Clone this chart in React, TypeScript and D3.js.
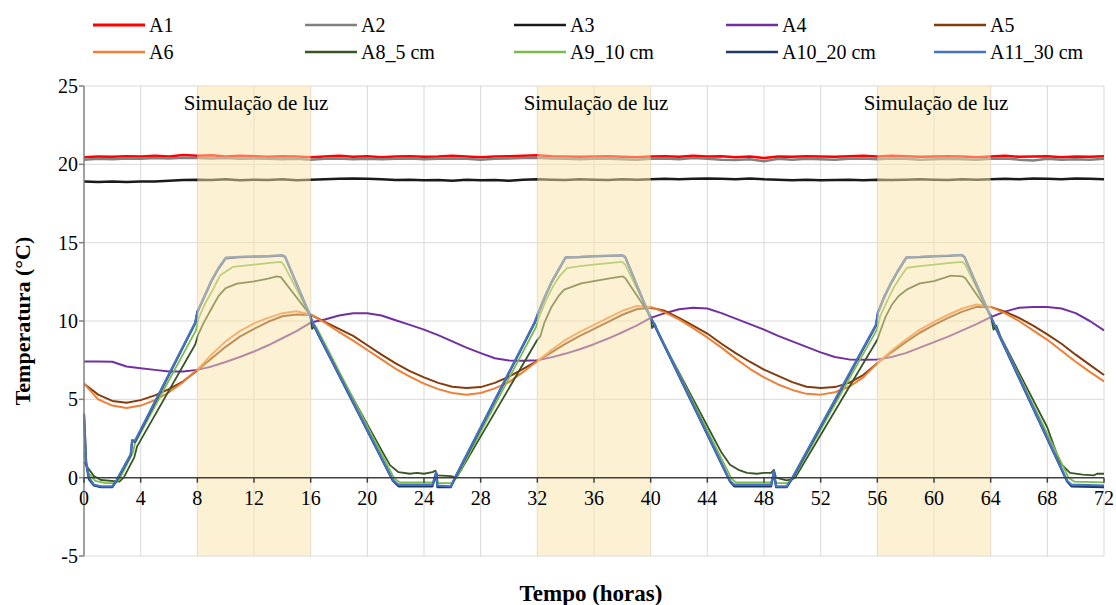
import React from "react";
import * as d3 from "d3";

// ---------- DATA ----------
const xTicks = [0, 4, 8, 12, 16, 20, 24, 28, 32, 36, 40, 44, 48, 52, 56, 60, 64, 68, 72];
const yTicks = [-5, 0, 5, 10, 15, 20, 25];
const lightPeriods = [[8, 16], [32, 40], [56, 64]];
const lightLabel = "Simulação de luz";

// hourly values (hour 0..72)
const A1 = [20.45, 20.5, 20.48, 20.52, 20.5, 20.55, 20.5, 20.6, 20.55, 20.58, 20.5, 20.55, 20.52, 20.48, 20.52, 20.5, 20.45, 20.5, 20.55, 20.48, 20.52, 20.45, 20.5, 20.52, 20.48, 20.5, 20.55, 20.5, 20.45, 20.5, 20.52, 20.55, 20.58, 20.52, 20.5, 20.48, 20.5, 20.52, 20.48, 20.45, 20.5, 20.52, 20.48, 20.55, 20.5, 20.52, 20.45, 20.5, 20.4, 20.5, 20.48, 20.52, 20.5, 20.48, 20.52, 20.55, 20.5, 20.55, 20.52, 20.48, 20.5, 20.52, 20.5, 20.45, 20.5, 20.55, 20.48, 20.5, 20.52, 20.45, 20.5, 20.48, 20.52];
const A2 = [20.3, 20.35, 20.32, 20.38, 20.35, 20.4, 20.38, 20.42, 20.4, 20.38, 20.4, 20.35, 20.38, 20.36, 20.33, 20.35, 20.3, 20.35, 20.38, 20.33, 20.35, 20.32, 20.35, 20.38, 20.33, 20.35, 20.38, 20.35, 20.3, 20.35, 20.38, 20.4, 20.42, 20.38, 20.35, 20.33, 20.35, 20.36, 20.33, 20.3, 20.35, 20.38, 20.33, 20.4, 20.35, 20.3, 20.28, 20.33, 20.2, 20.35, 20.3, 20.35, 20.33, 20.3, 20.35, 20.38, 20.33, 20.38, 20.35, 20.3, 20.33, 20.36, 20.33, 20.3, 20.35, 20.38, 20.3, 20.25, 20.35, 20.3, 20.33, 20.3, 20.35];
const A3 = [18.9, 18.88, 18.9, 18.88, 18.9, 18.9, 18.95, 19.0, 19.02, 19.0, 19.05, 18.98, 19.02, 19.0, 19.05, 18.98, 19.02, 19.05, 19.08, 19.1, 19.08, 19.05, 19.0, 19.02, 18.98, 19.0, 18.95, 19.02, 18.98, 19.0, 18.95, 19.02, 19.05, 19.02, 19.0, 19.05, 19.02, 19.0, 19.05, 19.02, 19.05, 19.08, 19.05, 19.08, 19.1, 19.08, 19.05, 19.1, 19.05, 19.02, 18.98, 19.02, 18.98, 19.0, 19.02, 18.98, 19.02, 19.0, 19.02, 19.05, 19.02, 19.0, 19.05, 19.02, 19.05, 19.08, 19.05, 19.1, 19.08, 19.05, 19.1, 19.08, 19.05];
const A4 = [7.42, 7.42, 7.4, 7.1, 6.98, 6.88, 6.78, 6.78, 6.88, 7.1, 7.38, 7.7, 8.05, 8.45, 8.9, 9.35, 9.9, 10.1, 10.35, 10.5, 10.5, 10.35, 10.05, 9.75, 9.45, 9.1, 8.7, 8.3, 7.95, 7.62, 7.48, 7.47, 7.5, 7.68, 7.92, 8.2, 8.52, 8.88, 9.28, 9.7, 10.2, 10.5, 10.75, 10.85, 10.8, 10.5, 10.15, 9.8, 9.45, 9.05, 8.7, 8.35, 8.0, 7.7, 7.55, 7.52, 7.55, 7.7, 7.95, 8.3, 8.65, 9.0, 9.4, 9.8, 10.25, 10.6, 10.85, 10.9, 10.9, 10.8, 10.5, 10.0, 9.4];
const A5 = [6.0, 5.3, 4.9, 4.78, 4.95, 5.25, 5.65, 6.15, 6.85, 7.6, 8.35, 9.0, 9.5, 9.95, 10.3, 10.42, 10.4, 9.95, 9.5, 9.05, 8.45, 7.85, 7.3, 6.8, 6.4, 6.05, 5.8, 5.72, 5.78, 6.05, 6.45, 6.95, 7.45, 8.0, 8.55, 9.05, 9.5, 9.95, 10.4, 10.75, 10.85, 10.65, 10.2, 9.7, 9.2, 8.55, 7.95, 7.4, 6.9, 6.5, 6.1, 5.8, 5.72, 5.78, 6.05, 6.55, 7.3, 8.0, 8.65, 9.25, 9.75, 10.2, 10.6, 10.9, 10.9, 10.6, 10.2, 9.7, 9.15, 8.55, 7.85, 7.2, 6.55];
const A6 = [6.0, 5.0, 4.6, 4.45, 4.6, 4.95, 5.45, 6.1, 6.9, 7.85, 8.7, 9.35, 9.85, 10.2, 10.5, 10.62, 10.4, 9.9, 9.3, 8.75, 8.15, 7.55, 6.95, 6.45, 6.0, 5.65, 5.4, 5.3, 5.4, 5.7, 6.1, 6.75, 7.45, 8.15, 8.8, 9.3, 9.75, 10.2, 10.65, 10.95, 10.9, 10.55, 10.1, 9.55, 8.95, 8.3, 7.6, 6.95, 6.4, 5.95, 5.6, 5.35, 5.3, 5.45, 5.8, 6.4, 7.3, 8.1, 8.8, 9.45, 9.95, 10.4, 10.8, 11.05, 10.9, 10.5, 10.0, 9.4, 8.8, 8.1, 7.4, 6.75, 6.15];

// [hour, value] readings for soil probes
const A8 = [[0, 1.0], [0.3, 0.6], [0.7, 0.1], [1.2, -0.15], [2.5, -0.25], [2.8, 0.0], [3.55, 1.3], [3.75, 2.0], [7.85, 8.5], [8.05, 9.1], [8.4, 9.8], [9, 10.8], [9.5, 11.6], [10, 12.1], [10.8, 12.38], [12, 12.53], [13, 12.7], [13.6, 12.85], [13.9, 12.8], [15.95, 10.4], [16.1, 9.5], [16.3, 9.7], [16.6, 9.0], [20, 3.4], [21.1, 1.6], [21.6, 0.8], [22.2, 0.35], [23, 0.25], [23.5, 0.3], [24, 0.25], [24.6, 0.35], [24.8, 0.45], [24.95, 0.15], [25.9, 0.1], [26.3, 0.0], [32.0, 8.8], [32.2, 9.0], [32.5, 9.9], [33.0, 10.9], [33.5, 11.6], [33.9, 12.0], [35.1, 12.4], [36, 12.55], [37, 12.7], [38, 12.85], [38.2, 12.75], [40.0, 10.3], [40.1, 9.55], [40.3, 9.8], [40.6, 9.1], [44, 3.3], [45.0, 1.6], [45.6, 0.83], [46.2, 0.5], [46.8, 0.3], [47.5, 0.25], [48.0, 0.3], [48.5, 0.3], [48.7, 0.5], [48.85, 0.0], [49.6, -0.17], [50.0, -0.1], [50.2, 0.0], [56.0, 8.8], [56.2, 9.34], [56.6, 10.3], [57, 11.0], [57.5, 11.6], [58.07, 12.0], [59, 12.4], [60, 12.55], [61.2, 12.89], [62, 12.85], [62.2, 12.75], [64.0, 10.4], [64.2, 9.45], [64.4, 9.7], [64.7, 9.0], [68, 3.2], [68.9, 0.94], [69.6, 0.3], [70.5, 0.2], [71.3, 0.15], [71.5, 0.25], [72, 0.25]];
const A9 = [[0, 1.6], [0.3, 0.3], [0.8, -0.2], [1.5, -0.35], [2.2, -0.35], [2.5, -0.1], [3.45, 1.6], [3.6, 2.2], [7.9, 9.4], [8.1, 10.2], [8.6, 11.2], [9.1, 12.0], [9.6, 12.9], [10.5, 13.45], [11, 13.5], [12, 13.6], [13, 13.7], [13.9, 13.78], [14.1, 13.6], [15.95, 10.4], [16.2, 9.7], [16.4, 9.6], [21.9, -0.05], [22.3, -0.3], [24.7, -0.3], [24.9, 0.1], [25.0, -0.35], [26.0, -0.35], [26.3, 0.0], [31.9, 9.6], [32.15, 10.3], [32.6, 11.3], [33.1, 12.2], [33.6, 12.9], [34.1, 13.38], [35, 13.5], [36, 13.6], [37, 13.7], [38, 13.77], [38.2, 13.6], [40.0, 10.3], [40.3, 9.7], [45.7, -0.05], [46.0, -0.3], [48.5, -0.3], [48.7, 0.1], [48.85, -0.35], [49.7, -0.35], [50.1, 0.0], [56.0, 9.5], [56.2, 10.3], [56.7, 11.3], [57.2, 12.2], [57.7, 12.9], [58.1, 13.4], [59, 13.5], [60, 13.6], [61, 13.7], [62, 13.78], [62.2, 13.6], [64.0, 10.3], [64.3, 9.7], [69.5, 0.0], [69.9, -0.25], [72, -0.3]];
const A10 = [[0, 4.0], [0.15, 0.9], [0.35, -0.1], [0.7, -0.5], [1.2, -0.6], [2.0, -0.6], [2.3, -0.2], [3.3, 1.45], [3.4, 2.35], [3.6, 2.3], [7.85, 9.85], [8.0, 10.55], [8.5, 11.55], [9.0, 12.55], [9.5, 13.35], [10.0, 14.0], [11, 14.08], [12, 14.1], [13, 14.12], [14.0, 14.18], [14.2, 14.08], [15.95, 10.35], [16.1, 9.95], [16.3, 9.55], [21.8, -0.2], [22.2, -0.55], [24.6, -0.55], [24.85, 0.3], [24.95, -0.6], [25.9, -0.6], [26.2, 0.0], [31.8, 9.85], [32.05, 10.45], [32.5, 11.45], [33, 12.45], [33.5, 13.25], [34, 14.05], [35, 14.08], [36, 14.12], [37, 14.15], [38, 14.18], [38.2, 14.08], [39.95, 10.25], [40.2, 9.85], [45.6, -0.25], [45.9, -0.55], [48.5, -0.55], [48.7, 0.35], [48.85, -0.6], [49.6, -0.6], [50.0, -0.05], [55.9, 9.7], [56.05, 10.55], [56.5, 11.55], [57, 12.45], [57.5, 13.25], [58.05, 14.05], [59, 14.08], [60, 14.12], [61, 14.15], [61.95, 14.2], [62.15, 14.08], [64.0, 10.25], [64.2, 9.85], [69.4, -0.25], [69.7, -0.55], [72, -0.6]];
const A11 = [[0, 4.1], [0.15, 1.0], [0.35, 0.0], [0.7, -0.45], [1.2, -0.55], [2.0, -0.55], [2.3, -0.15], [3.3, 1.5], [3.4, 2.4], [3.6, 2.35], [7.85, 9.9], [8.0, 10.6], [8.5, 11.6], [9.0, 12.6], [9.5, 13.4], [10.0, 14.05], [11, 14.1], [12, 14.12], [13, 14.15], [14.0, 14.2], [14.2, 14.1], [15.95, 10.4], [16.1, 10.0], [16.3, 9.6], [21.8, -0.15], [22.2, -0.45], [24.6, -0.45], [24.85, 0.35], [24.95, -0.5], [25.9, -0.55], [26.2, 0.05], [31.8, 9.9], [32.05, 10.5], [32.5, 11.5], [33, 12.5], [33.5, 13.3], [34, 14.08], [35, 14.1], [36, 14.15], [37, 14.17], [38, 14.2], [38.2, 14.1], [39.95, 10.3], [40.2, 9.9], [45.6, -0.2], [45.9, -0.45], [48.5, -0.45], [48.7, 0.4], [48.85, -0.55], [49.6, -0.55], [50.0, 0.0], [55.9, 9.76], [56.05, 10.6], [56.5, 11.6], [57, 12.5], [57.5, 13.3], [58.05, 14.08], [59, 14.1], [60, 14.15], [61, 14.18], [61.95, 14.23], [62.15, 14.1], [64.0, 10.3], [64.2, 9.9], [69.4, -0.2], [69.7, -0.45], [72, -0.5]];

const seriesNames = ["A1", "A2", "A3", "A4", "A5", "A6", "A8_5 cm", "A9_10 cm", "A10_20 cm", "A11_30 cm"];
const seriesColors = ["#FF0000", "#808080", "#1A1A1A", "#7030A0", "#843C0C", "#F07F35", "#375623", "#7CBB4B", "#1F3864", "#4472C4"];
const seriesWidths = [2.5, 2.5, 2.5, 2, 2, 2, 1.8, 1.8, 2.2, 2.2];

const hourly = (arr: number[]) => arr.map((v, i) => [i, v] as [number, number]);
const seriesData: [number, number][][] = [
  hourly(A1), hourly(A2), hourly(A3), hourly(A4), hourly(A5), hourly(A6),
  A8 as [number, number][], A9 as [number, number][], A10 as [number, number][], A11 as [number, number][],
];

// ---------- CHART ----------
const W = 1116, H = 605;
const FONT = '"Liberation Serif", "DejaVu Serif", "Times New Roman", serif';

export default function App() {
  const x = d3.scaleLinear().domain([0, 72]).range([84, 1104]);
  const y = d3.scaleLinear().domain([-5, 25]).range([556, 86]);
  const line = d3.line<[number, number]>().x((d) => x(d[0])).y((d) => y(d[1]));

  const legendCols = [93, 305, 514, 726, 934];
  const legendRows = [25, 52];
  const tf = { fontFamily: FONT };

  return (
    <svg width={W} height={H} style={{ position: "absolute", left: 0, top: 0, background: "#fff", fontFamily: FONT }}>
      <rect x={0} y={0} width={W} height={H} fill="#fff" />
      {/* gridlines */}
      {yTicks.filter((t) => t !== 0).map((t) => (
        <line key={"gy" + t} x1={x(0)} x2={x(72)} y1={y(t)} y2={y(t)} stroke="#D9D9D9" strokeWidth={1} />
      ))}
      {xTicks.filter((t) => t !== 0).map((t) => (
        <line key={"gx" + t} x1={x(t)} x2={x(t)} y1={y(25)} y2={y(-5)} stroke="#D9D9D9" strokeWidth={1} />
      ))}
      {/* series */}
      {seriesData.map((d, i) => (
        <path key={"s" + i} d={line(d) || ""} fill="none" stroke={seriesColors[i]} strokeWidth={seriesWidths[i]} strokeLinejoin="round" />
      ))}
      {/* light periods */}
      {lightPeriods.map(([a, b], i) => (
        <rect key={"lp" + i} x={x(a)} y={y(25)} width={x(b) - x(a)} height={y(-5) - y(25)} fill="#FCE3A8" fillOpacity={0.5} />
      ))}
      {lightPeriods.map(([a, b], i) => (
        <text key={"lt" + i} style={tf} x={(x(a) + x(b)) / 2 + 2} y={110} textAnchor="middle" fontSize={21} fill="#000">{lightLabel}</text>
      ))}
      {/* axes */}
      <line x1={x(0)} x2={x(0)} y1={y(25)} y2={y(-5)} stroke="#808080" strokeWidth={1.5} />
      {yTicks.map((t) => (
        <g key={"yt" + t}>
          <line x1={x(0) - 5} x2={x(0)} y1={y(t)} y2={y(t)} stroke="#808080" strokeWidth={1.5} />
          <text style={tf} x={78} y={y(t) + 7} textAnchor="end" fontSize={20} fill="#000">{t}</text>
        </g>
      ))}
      <line x1={x(0)} x2={x(72)} y1={y(0)} y2={y(0)} stroke="#404040" strokeWidth={1.5} />
      {xTicks.map((t) => (
        <g key={"xt" + t}>
          <line x1={x(t)} x2={x(t)} y1={y(0)} y2={y(0) + 5} stroke="#404040" strokeWidth={1.5} />
          <text style={tf} x={x(t)} y={505} textAnchor="middle" fontSize={20} fill="#000">{t}</text>
        </g>
      ))}
      {/* axis titles */}
      <text style={tf} x={591} y={601} textAnchor="middle" fontSize={23} fontWeight="bold" fill="#000">Tempo (horas)</text>
      <text style={tf} transform={`translate(30,${(y(25) + y(-5)) / 2}) rotate(-90)`} textAnchor="middle" fontSize={22} fontWeight="bold" fill="#000">Temperatura (°C)</text>
      {/* legend */}
      {seriesNames.map((n, i) => {
        const cx = legendCols[i % 5];
        const cy = legendRows[Math.floor(i / 5)];
        return (
          <g key={"lg" + i}>
            <line x1={cx} x2={cx + 52} y1={cy} y2={cy} stroke={seriesColors[i]} strokeWidth={i === 0 ? 3 : 2.5} />
            <text style={tf} x={cx + 56} y={cy + 7} fontSize={20} fill="#000">{n}</text>
          </g>
        );
      })}
    </svg>
  );
}
